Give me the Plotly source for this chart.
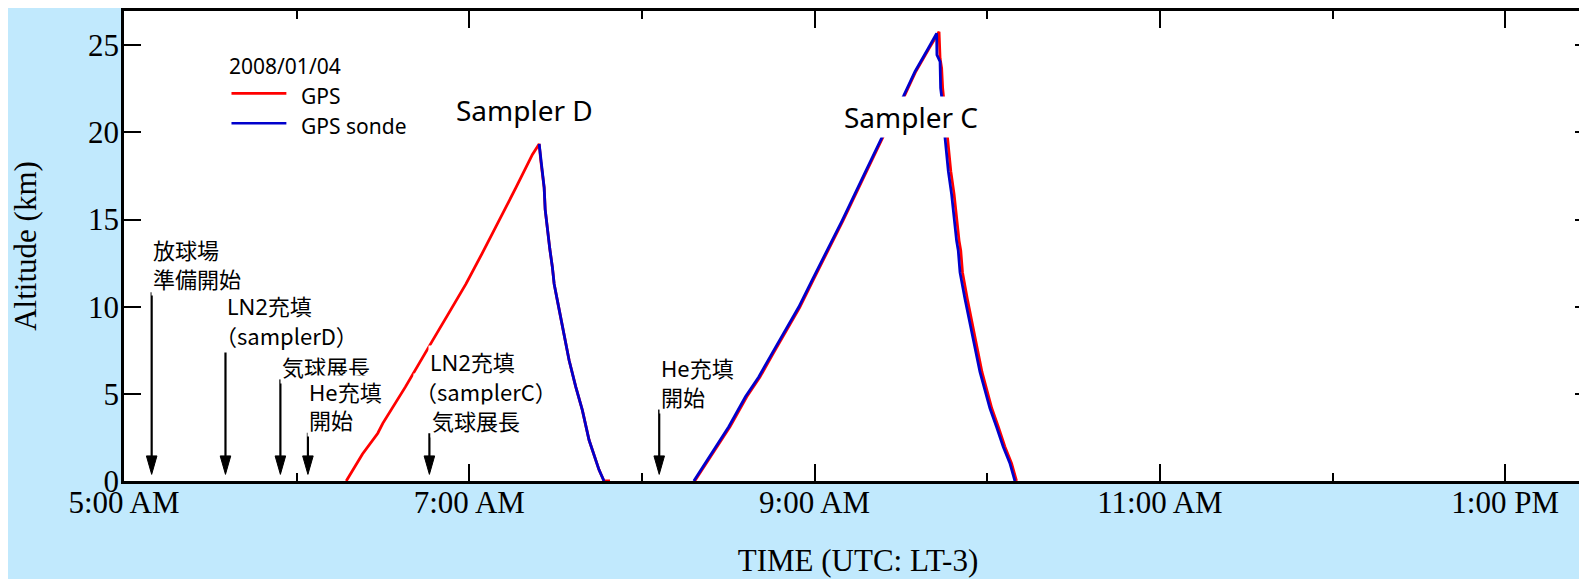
import pandas as pd
import plotly.graph_objects as go

DATE = "2008-01-04 "

# ---------------- data ----------------
# GPS (red): Sampler D flight
gps_d_time = ["06:17:14", "06:22:53", "06:28:12", "06:29:56", "06:37:48", "06:46:08", "06:47:16",
              "06:52:43", "06:58:51", "07:04:20", "07:10:24", "07:16:12", "07:21:57", "07:24:17",
              "07:24:52", "07:26:01", "07:26:22", "07:27:10", "07:27:59", "07:28:53", "07:29:29",
              "07:30:37", "07:32:22", "07:34:41", "07:37:00", "07:39:17", "07:41:37", "07:45:05",
              "07:46:49", "07:48:54"]
gps_d_alt = [0.0, 1.55, 2.74, 3.31, 5.40, 7.69, 8.07,
             9.59, 11.31, 13.02, 14.93, 16.83, 18.74, 19.34,
             18.35, 16.83, 15.59, 14.35, 13.31, 12.26, 11.31,
             10.35, 8.83, 6.93, 5.40, 4.07, 2.35, 0.64,
             0.0, 0.0]

# GPS (red): Sampler C flight
gps_c_time = ["08:18:20", "08:24:45", "08:30:35", "08:36:25", "08:41:00", "08:45:35", "08:50:12",
              "08:54:50", "08:59:25", "09:04:02", "09:08:02", "09:09:50", "09:18:05", "09:23:52",
              "09:31:08", "09:35:10", "09:39:48", "09:43:15",
              "09:43:36", "09:44:09", "09:44:30", "09:46:12", "09:46:45", "09:47:20", "09:48:29",
              "09:49:05", "09:49:40", "09:50:13", "09:50:48", "09:51:24", "09:53:05", "09:54:46",
              "09:56:28", "09:58:10", "09:59:52", "10:01:34", "10:03:50", "10:06:08", "10:08:26",
              "10:10:10"]
gps_c_alt = [0.0, 1.59, 3.11, 4.83, 5.97, 7.31, 8.64,
             9.97, 11.50, 13.02, 14.35, 14.93, 17.78, 19.78,
             22.07, 23.50, 24.83, 25.78,
             24.26, 23.69, 22.54, 19.69, 18.74, 17.78, 16.45,
             15.50, 14.54, 13.78, 13.21, 11.97, 10.45, 9.02,
             7.50, 6.26, 5.21, 4.17, 3.11, 1.97, 1.02,
             0.0]

# GPS sonde (blue): Sampler D descent
sonde_d_time = ["07:24:17", "07:24:52", "07:26:01", "07:26:22", "07:27:10", "07:27:59", "07:28:53",
                "07:29:29", "07:30:37", "07:32:22", "07:34:41", "07:37:00", "07:39:17", "07:41:37",
                "07:45:05", "07:46:49"]
sonde_d_alt = [19.34, 18.35, 16.83, 15.59, 14.35, 13.31, 12.26,
               11.31, 10.35, 8.83, 6.93, 5.40, 4.07, 2.35,
               0.64, 0.0]

# GPS sonde (blue): Sampler C flight
sonde_c_time = ["08:18:02", "08:24:23", "08:30:10", "08:35:58", "08:40:35", "08:45:11", "08:49:50",
                "08:54:27", "08:59:04", "09:03:43", "09:07:44", "09:09:32", "09:17:47", "09:23:35",
                "09:30:52", "09:34:55", "09:39:32", "09:42:25",
                "09:42:31", "09:43:36", "09:43:48", "09:44:09", "09:45:20", "09:45:53", "09:46:28",
                "09:47:37", "09:48:13", "09:48:48", "09:49:21", "09:49:56", "09:50:32", "09:52:16",
                "09:54:00", "09:55:44", "09:57:28", "09:59:12", "10:00:56", "10:03:13", "10:05:33",
                "10:07:52", "10:09:37"]
sonde_c_alt = [0.0, 1.59, 3.11, 4.83, 5.97, 7.31, 8.64,
               9.97, 11.50, 13.02, 14.35, 14.93, 17.78, 19.78,
               22.07, 23.50, 24.83, 25.69,
               24.45, 24.07, 22.54, 22.07, 19.69, 18.74, 17.78,
               16.45, 15.50, 14.54, 13.78, 13.21, 11.97, 10.45,
               9.02, 7.50, 6.26, 5.21, 4.17, 3.11, 1.97,
               1.02, 0.0]

# event arrows (time, altitude of arrow tail in km)
event_time = ["05:09:37", "05:35:16", "05:54:21", "06:03:55", "06:46:08", "08:06:00"]
event_top = [10.83, 7.66, 5.83, 2.77, 2.74, 4.10]

x_tick_start = "05:00"
x_range_end = "13:30:10"
y_range = [0, 26.97]

legend_title = "2008/01/04"
series_names = ["GPS", "GPS sonde"]

# ---------------- style ----------------
RED = "#FF0000"
BLUE = "#0000CC"
BG = "#C1E9FD"
SERIF = "Liberation Serif, Times New Roman, serif"
JP = "Noto Sans, Noto Sans CJK JP, sans-serif"
JPN = "Noto Sans CJK JP, sans-serif"

W_FIG, H_FIG = 1587, 579
ML, MR, MT, MB = 116, 0, 1, 106
BODY = 8                      # page offset of the figure
PW = W_FIG - ML - MR
PH = H_FIG - MT - MB
P_LEFT = BODY + ML
P_BOTTOM = BODY + MT + PH


def px(x):          # page x (pixels) -> paper
    return (x - P_LEFT) / PW


def py(y):          # page y (pixels) -> paper
    return (P_BOTTOM - y) / PH


def ts(t):
    return pd.Timestamp(DATE + t)


def series(*parts):
    xs, ys = [], []
    for i, (tt, aa) in enumerate(parts):
        if i:
            xs.append(None)
            ys.append(None)
        xs += [ts(t) for t in tt]
        ys += list(aa)
    return xs, ys


fig = go.Figure()

rx, ry = series((gps_d_time, gps_d_alt), (gps_c_time, gps_c_alt))
bx, by = series((sonde_d_time, sonde_d_alt), (sonde_c_time, sonde_c_alt))

fig.add_trace(go.Scatter(x=rx, y=ry, mode="lines", name=series_names[0],
                         line=dict(color=RED, width=2.8), showlegend=False))
fig.add_trace(go.Scatter(x=bx, y=by, mode="lines", name=series_names[1],
                         line=dict(color=BLUE, width=2.8), showlegend=False))

# arrows: shafts + filled heads
TIP = 0.38          # km
HEAD_LEN = 1.06     # km
HEAD_HALF = pd.Timedelta(seconds=110)
sx, sy, hx, hy = [], [], [], []
for t, top in zip(event_time, event_top):
    T = ts(t)
    sx += [T, T, None]
    sy += [top, TIP + HEAD_LEN * 0.5, None]
    hx += [T - HEAD_HALF, T + HEAD_HALF, T, T - HEAD_HALF, None]
    hy += [TIP + HEAD_LEN, TIP + HEAD_LEN, TIP, TIP + HEAD_LEN, None]
fig.add_trace(go.Scatter(x=sx, y=sy, mode="lines", line=dict(color="black", width=2.2),
                         showlegend=False, hoverinfo="skip"))
fig.add_trace(go.Scatter(x=hx, y=hy, mode="lines", fill="toself", fillcolor="black",
                         line=dict(color="black", width=1), showlegend=False, hoverinfo="skip"))

annotations = []


def label(text, xl, yc, size=22, anchor="left", bg="white", family=JP):
    annotations.append(dict(text=text, x=px(xl), y=py(yc), xref="paper", yref="paper",
                            xanchor=anchor, yanchor="middle", align="left", showarrow=False,
                            font=dict(family=family, size=size, color="black"),
                            bgcolor=bg, borderpad=1))


label("Sampler D", 525, 108.5, size=28, anchor="center")
label("Sampler C", 912.5, 115, size=28, anchor="center")

label("放球場", 151.5, 249)
label("準備開始", 151.5, 278)
label("LN2充填", 225, 305)
label("（samplerD）", 213, 334, family=JPN)
label("気球展長", 280.5, 367)
label("He充填", 307.5, 391.5)
label("開始", 307.5, 419.5)
label("LN2充填", 429, 361)
label("（samplerC）", 414, 391, family=JPN)
label("気球展長", 430.5, 421)
label("He充填", 660, 368)
label("開始", 660, 396.5)

# manual legend
label(legend_title, 227, 64, size=21, bg=None)
label(series_names[0], 299, 94, size=21, bg=None)
label(series_names[1], 299, 124, size=21, bg=None)
shapes = [
    dict(type="line", xref="paper", yref="paper", x0=px(231.7), x1=px(286.7), y0=py(91.7), y1=py(91.7),
         line=dict(color=RED, width=2.6)),
    dict(type="line", xref="paper", yref="paper", x0=px(231.7), x1=px(286.7), y0=py(121.7), y1=py(121.7),
         line=dict(color=BLUE, width=2.6)),
]

fig.update_layout(
    width=W_FIG, height=H_FIG,
    margin=dict(l=ML, r=MR, t=MT, b=MB),
    paper_bgcolor=BG, plot_bgcolor="white",
    annotations=annotations, shapes=shapes,
    showlegend=False,
    font=dict(family=SERIF, size=31, color="black"),
)

fig.update_xaxes(
    type="date",
    range=[ts(x_tick_start), ts(x_range_end)],
    tick0=ts(x_tick_start), dtick=2 * 3600 * 1000,
    tickformat="%-I:%M %p",
    ticks="inside", ticklen=17, tickwidth=2, tickcolor="black",
    minor=dict(dtick=3600 * 1000, ticks="inside", ticklen=8, tickwidth=2, tickcolor="black"),
    showline=True, linecolor="black", linewidth=2.5, mirror="allticks",
    showgrid=False, zeroline=False,
    ticklabelstandoff=-8,
    tickfont=dict(family=SERIF, size=31, color="black"),
    title=dict(text="TIME (UTC: LT-3)", font=dict(family=SERIF, size=31, color="black"), standoff=31),
)
fig.update_yaxes(
    range=y_range, dtick=5, tick0=0,
    ticks="inside", ticklen=17, tickwidth=2, tickcolor="black",
    showline=True, linecolor="black", linewidth=2.5, mirror="allticks",
    showgrid=False, zeroline=False,
    ticklabelstandoff=-4,
    tickfont=dict(family=SERIF, size=31, color="black"),
    title=dict(text="Altitude (km)", font=dict(family=SERIF, size=31, color="black"), standoff=44),
)

fig.write_html("out.html")
